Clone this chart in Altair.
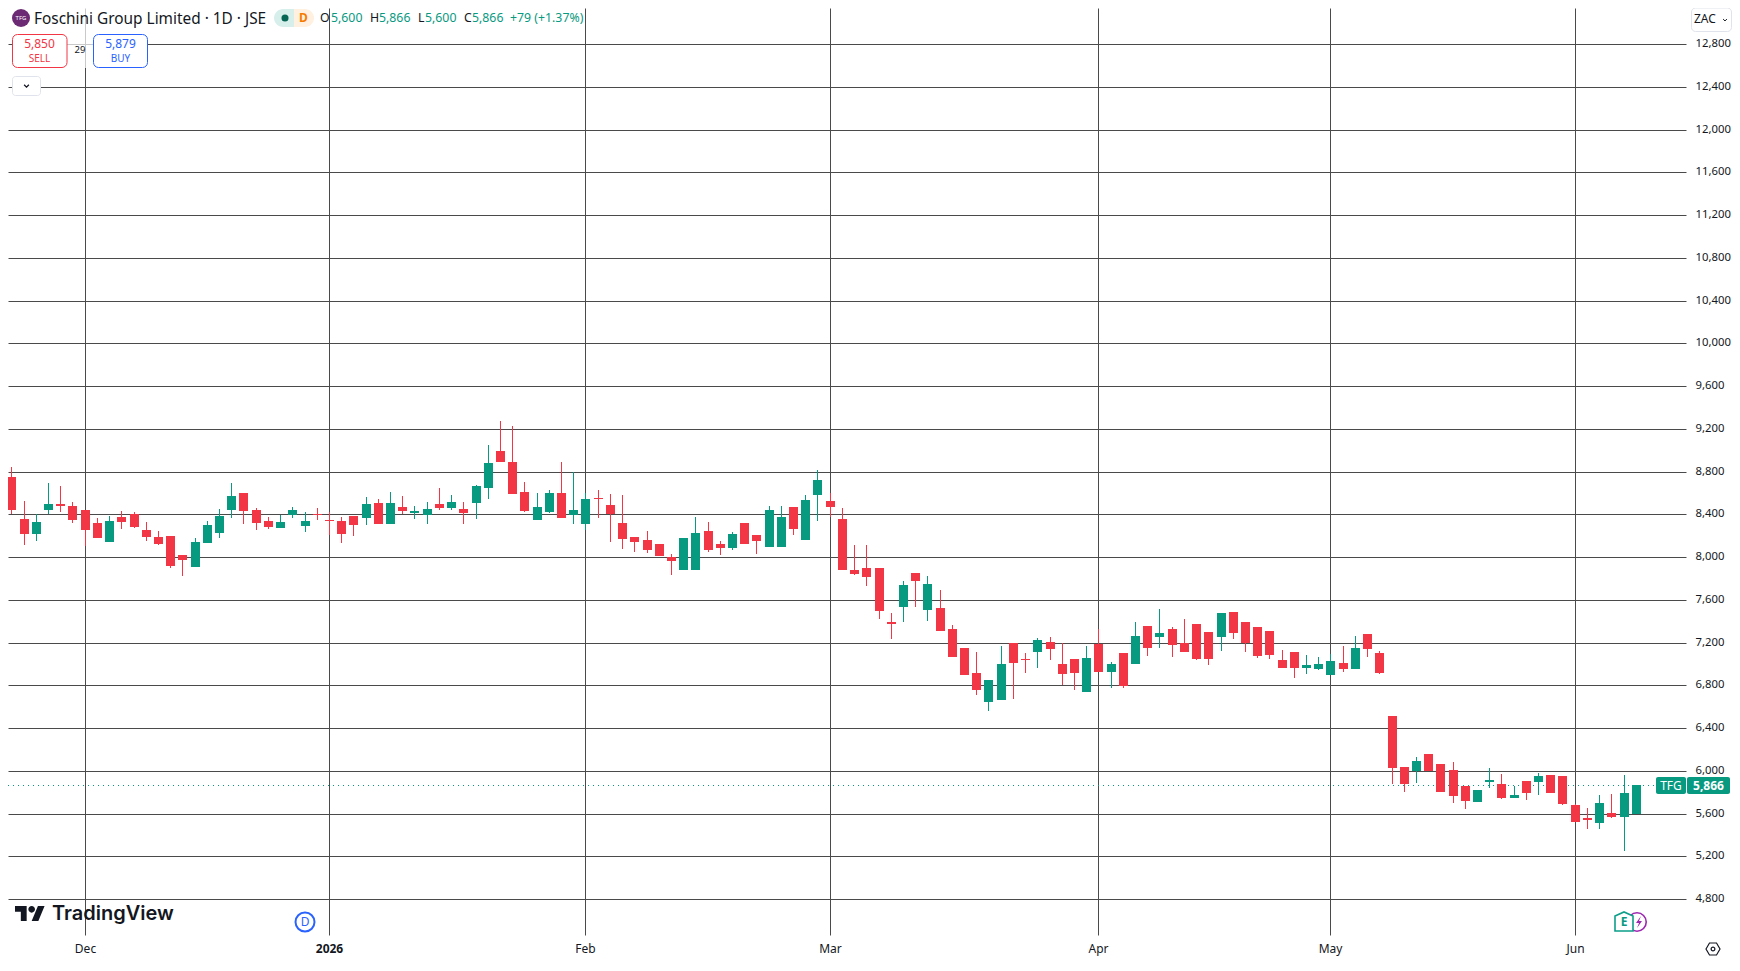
import altair as alt
import pandas as pd

opens = [8751,8358,8218,8442,8498,8480,8442,8320,8143,8377,
8405,8255,8190,8199,8021,7909,8133,8227,8442,8601,
8442,8339,8274,8395,8292,8405,8349,8339,8386,8367,
8508,8311,8470,8414,8395,8498,8461,8452,8508,8648,
8994,8891,8611,8349,8423,8601,8395,8311,8554,8489,
8320,8190,8161,8124,8002,7881,7881,8246,8124,8087,
8320,8208,8096,8096,8470,8161,8582,8526,8358,7881,
7899,7899,7394,7535,7853,7506,7525,7329,7151,6917,
6646,6664,7195,7048,7113,7207,7001,7048,6739,7188,
6926,7104,7001,7357,7254,7329,7195,7375,7301,7254,
7488,7394,7347,7308,7036,7111,6961,6952,6896,7008,
6952,7280,7102,6512,6035,5998,6157,6063,6007,5857,
5707,5895,5876,5745,5904,5895,5960,5951,5679,5558,
5511,5605,5567,5600]
highs = [8845,8526,8402,8695,8667,8517,8442,8367,8386,8433,
8423,8330,8246,8199,8021,8180,8339,8452,8695,8601,
8461,8377,8395,8470,8423,8461,8423,8377,8386,8564,
8545,8611,8573,8480,8517,8648,8582,8517,8676,9050,
9275,9228,8704,8601,8629,8891,8795,8601,8629,8592,
8582,8190,8246,8124,8030,8180,8377,8330,8152,8236,
8320,8208,8480,8480,8470,8582,8816,8601,8461,8115,
8115,7899,7478,7778,7853,7825,7694,7366,7151,7113,
6851,7170,7195,7104,7244,7254,7195,7048,7170,7329,
7020,7104,7394,7357,7516,7347,7422,7375,7301,7478,
7488,7394,7347,7308,7130,7111,7083,7064,7092,7167,
7261,7280,7120,6512,6035,6129,6157,6063,6082,5857,
5820,6026,5970,5857,5904,5979,5960,5951,5689,5651,
5773,5782,5960,5866]
lows = [8402,8115,8152,8399,8423,8320,8105,8180,8143,8264,
8274,8152,8115,7899,7825,7909,8133,8180,8367,8311,
8255,8264,8274,8367,8236,8349,8208,8133,8199,8302,
8311,8311,8405,8358,8311,8442,8442,8311,8358,8545,
8891,8592,8423,8349,8414,8367,8311,8255,8367,8143,
8077,8049,8040,8012,7834,7881,7881,8049,8021,8068,
8124,8030,8096,8096,8208,8161,8339,8377,7881,7834,
7731,7422,7235,7394,7535,7403,7310,7067,6898,6711,
6561,6664,6674,6917,6964,7039,6802,6758,6739,6926,
6777,6777,7001,7076,7151,7067,7113,7039,6992,7123,
7235,7113,7057,7046,6961,6868,6905,6943,6896,6924,
6952,7064,6905,5876,5801,5885,5998,5801,5698,5642,
5707,5838,5736,5745,5726,5773,5792,5679,5520,5455,
5455,5558,5249,5600]
closes = [8442,8218,8330,8498,8480,8349,8255,8180,8339,8330,
8283,8190,8124,7918,7974,8143,8302,8386,8573,8433,
8320,8283,8330,8442,8339,8396,8340,8218,8302,8498,
8311,8508,8433,8433,8452,8461,8517,8414,8667,8882,
8891,8592,8433,8470,8601,8367,8442,8545,8545,8405,
8171,8143,8068,8012,7965,8180,8227,8068,8087,8218,
8124,8152,8442,8377,8264,8536,8723,8470,7881,7843,
7815,7497,7375,7740,7778,7750,7310,7067,6898,6758,
6851,7001,7011,7039,7226,7142,6908,6917,7057,6926,
7001,6795,7263,7151,7291,7179,7113,7048,7048,7478,
7291,7195,7076,7083,6961,6961,6989,6999,7027,6952,
7148,7139,6915,6026,5876,6091,5998,5801,5764,5717,
5820,5913,5745,5773,5792,5951,5792,5689,5520,5539,
5698,5567,5792,5866]

month_ticks = [6, 26, 47, 67, 89, 108, 128]
month_labels = ["Dec", "2026", "Feb", "Mar", "Apr", "May", "Jun"]
price_ticks = [4800 + 400 * k for k in range(21)]
last_price = 5866

GREEN = "#089981"
RED = "#f23645"
BLUE = "#2962ff"
INK = "#131722"
GRID = "#4a4a4a"
FONT = "Noto Sans"

df = pd.DataFrame({"i": list(range(len(opens))), "open": opens, "high": highs, "low": lows, "close": closes})
df["dir"] = ["up" if c >= o else "down" for o, c in zip(opens, closes)]

xs = alt.Scale(domain=[-0.2802, 137.113], nice=False, zero=False, round=True, padding=0)
ys = alt.Scale(domain=[4463.3, 13136.9], nice=False, zero=False, round=True, padding=0)
cs = alt.Scale(domain=["up", "down"], range=[GREEN, RED])
labels_expr = "[" + ",".join(f"'{s}'" for s in month_labels) + "][indexof([" + ",".join(map(str, month_ticks)) + "],datum.value)]"

x_axis = alt.Axis(values=month_ticks, labelExpr=labels_expr, grid=True, gridColor=GRID, gridOpacity=1, gridWidth=1,
                  domain=False, ticks=False, title=None, labelPadding=8, labelFontSize=12, labelFont=FONT, labelColor=INK,
                  labelOverlap=False, labelFlush=False,
                  labelFontWeight={"condition": {"test": "datum.value==26", "value": "bold"}, "value": "normal"})
y_axis = alt.Axis(values=price_ticks, format=",d", orient="right", grid=True, gridColor=GRID, gridOpacity=1, gridWidth=1,
                  domain=False, ticks=False, title=None, labelPadding=9, labelFontSize=11.3, labelFont=FONT, labelColor=INK,
                  labelOverlap=False, labelFlush=False, labelOffset=-0.7)

base = alt.Chart(df)
wicks = base.mark_rule(strokeWidth=1, xOffset=0.5).encode(
    x=alt.X("i:Q", scale=xs, axis=x_axis),
    y=alt.Y("high:Q", scale=ys, axis=y_axis),
    y2="low:Q",
    color=alt.Color("dir:N", scale=cs, legend=None),
)
bodies = base.mark_bar(size=9, xOffset=0.5, orient="vertical").encode(
    x=alt.X("i:Q", scale=xs, axis=x_axis),
    y=alt.Y("open:Q", scale=ys, axis=y_axis),
    y2="close:Q",
    color=alt.Color("dir:N", scale=cs, legend=None),
)

one = alt.Data(values=[{"a": 1}])


def T(text, x, y, size=12, color=INK, align="left", weight="normal", font=FONT):
    return alt.Chart(one).mark_text(text=text, fontSize=size, color=color, align=align, baseline="middle",
                                    fontWeight=weight, font=font).encode(x=alt.value(x - 8), y=alt.value(y - 8))


def R(x1, y1, x2, y2, **kw):
    return alt.Chart(one).mark_rect(**kw).encode(x=alt.value(x1 - 8), x2=alt.value(x2 - 8),
                                                 y=alt.value(y1 - 8), y2=alt.value(y2 - 8))


def P(shape, x, y, size, **kw):
    return alt.Chart(one).mark_point(shape=shape, size=size, opacity=1, **kw).encode(x=alt.value(x - 8), y=alt.value(y - 8))


price_line = alt.Chart(alt.Data(values=[{"p": last_price}])).mark_rule(
    color=GREEN, strokeWidth=1, strokeDash=[1, 4], yOffset=0.5
).encode(y=alt.Y("p:Q", scale=ys, axis=y_axis), x=alt.value(0), x2=alt.value(1648))

logo_path = ("M-4,9L-11,9L-11,-2L-18,-2L-18,-9L-4,-9Z M10,9L2,9L9.5,-9L17.5,-9Z "
             "M-2,-5a4,4 0 1,0 8,0a4,4 0 1,0 -8,0Z")
house = "M-9,-5.5L0,-9.5L9,-5.5L9,9.5L-9,9.5Z"
bolt = "M2,-6L-3,1L0,1L-2,6L3,-1L0,-1Z"
hexagon = "M-7,0L-3.5,-6L3.5,-6L7,0L3.5,6L-3.5,6Z"
chev = "M-4,-2L0,2L4,-2"

layers = [
    price_line, wicks, bodies,
    # header panel
    R(12, 8, 148, 68, fill="white", opacity=0.7),
    P("circle", 21, 18, 324, filled=True, fill="#6b2a73", strokeWidth=0),
    T("TFG", 21, 18, size=6, color="white", align="center"),
    T("Foschini Group Limited · 1D · JSE", 34, 19, size=15.4),
    R(274, 9, 294, 27, fill="#d7efeb", cornerRadiusTopLeft=9, cornerRadiusBottomLeft=9),
    R(294, 9, 314, 27, fill="#fff0e0", cornerRadiusTopRight=9, cornerRadiusBottomRight=9),
    P("circle", 285, 18, 50, filled=True, fill="#056656", strokeWidth=0),
    T("D", 303.5, 18, size=12, color="#f57c00", align="center", weight="bold"),
    T("O", 320, 18, size=12.3), T("5,600", 331, 18, size=12.3, color=GREEN),
    T("H", 370, 18, size=12.3), T("5,866", 379, 18, size=12.3, color=GREEN),
    T("L", 418, 18, size=12.3), T("5,600", 425, 18, size=12.3, color=GREEN),
    T("C", 464, 18, size=12.3), T("5,866", 472, 18, size=12.3, color=GREEN),
    T("+79 (+1.37%)", 510, 18, size=12.3, color=GREEN),
    R(12.5, 34.5, 67, 67.5, fill="white", stroke=RED, strokeWidth=1, cornerRadius=5),
    T("5,850", 39.5, 44, size=12, color=RED, align="center"),
    T("SELL", 39.5, 58.5, size=10, color=RED, align="center"),
    R(93.5, 34.5, 147.5, 67.5, fill="white", stroke=BLUE, strokeWidth=1, cornerRadius=5),
    T("5,879", 120.5, 44, size=12, color=BLUE, align="center"),
    T("BUY", 120.5, 58.5, size=10, color=BLUE, align="center"),
    T("29", 80, 50, size=9.5, align="center"),
    R(12.5, 76.5, 40.5, 95.5, fill="white", stroke="#e0e3eb", strokeWidth=1, cornerRadius=3),
    P(chev, 26.5, 86, 1.4, filled=False, stroke=INK, strokeWidth=1.3),
    # currency
    R(1691.5, 8, 1731.5, 31.5, fill="white", stroke="#e0e3eb", strokeWidth=1, cornerRadius=4),
    T("ZAC", 1694, 19, size=12),
    P(chev, 1725, 20, 0.9, filled=False, stroke=INK, strokeWidth=1),
    # last price flags
    R(1656, 777, 1686, 794, fill=GREEN, cornerRadius=2),
    R(1687, 777, 1730, 794, fill=GREEN, cornerRadius=2),
    T("TFG", 1671, 785.5, size=12, color="white", align="center"),
    T("5,866", 1708.5, 785.5, size=12, color="white", align="center", weight="bold"),
    # watermark
    P(logo_path, 30, 913.5, 2.78, filled=True, fill=INK, strokeWidth=0),
    T("TradingView", 52, 914, size=20, weight=600, font="Inter"),
    # event badges
    P("circle", 305, 922, 361, filled=True, fill="white", stroke=BLUE, strokeWidth=2),
    T("D", 305, 922, size=12, color=BLUE, align="center"),
    P("circle", 1637, 922, 340, filled=True, fill="white", stroke="#9c27b0", strokeWidth=1.6),
    P(bolt, 1639, 922, 4, filled=True, fill="#9c27b0", strokeWidth=0),
    P(house, 1624, 921.5, 4, filled=True, fill="white", stroke="#0d9f8a", strokeWidth=1.6),
    T("E", 1624, 922, size=12, color=GREEN, align="center", weight="bold"),
    # settings
    P(hexagon, 1713, 949, 4, filled=False, stroke=INK, strokeWidth=1.2),
    P("circle", 1713, 949, 14, filled=False, stroke=INK, strokeWidth=1.2),
]

chart = alt.layer(*layers).properties(
    width=1678, height=927,
    autosize=alt.AutoSizeParams(type="none"),
    padding={"left": 0, "top": 0, "right": 46, "bottom": 22},
    background="white",
).configure_view(strokeWidth=0)

chart.save("out.html", embed_options={"renderer": "svg", "actions": False})
